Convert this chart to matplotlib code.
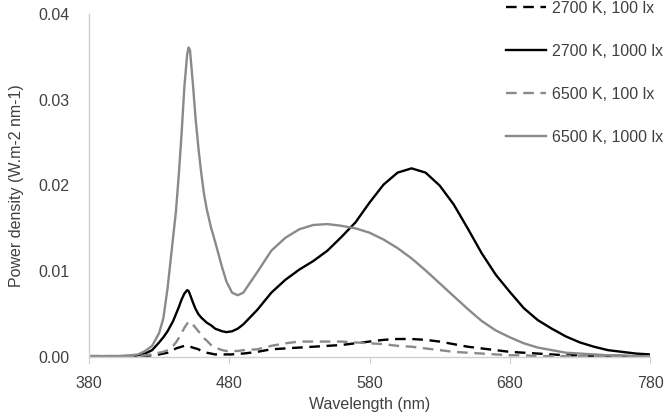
import matplotlib
matplotlib.use("Agg")
import matplotlib.pyplot as plt
from matplotlib.ticker import FormatStrFormatter

wavelength = [380, 390, 400, 410, 415, 420, 425, 430, 433, 436, 438, 440, 442, 444, 446,
              448, 450, 451, 452, 454, 456, 458, 460, 462, 464, 467, 470, 475, 478, 482,
              486, 490, 500, 510, 520, 530, 540, 550, 560, 570,
              580, 590, 600, 610, 620, 630, 640, 650, 660, 670, 680, 690, 700, 710, 720,
              730, 740, 750, 760, 770, 780]

k2700_100 = [0.0001, 0.0001, 0.0001, 0.0001, 0.0001, 0.0001, 0.0002, 0.0003, 0.0004, 0.0005,
             0.0007, 0.0008, 0.0010, 0.0011, 0.0012, 0.0013, 0.0013, 0.0013, 0.0012, 0.0011,
             0.0010, 0.0009, 0.0007, 0.0006, 0.0005, 0.0004, 0.0003, 0.0003, 0.0003, 0.0003,
             0.0004, 0.0004, 0.0006, 0.0009, 0.0010, 0.0011, 0.0012, 0.0013, 0.0014, 0.0016,
             0.0018, 0.0020, 0.0021, 0.0021, 0.0020, 0.0018, 0.0015, 0.0012, 0.0010, 0.0008,
             0.0006, 0.0005, 0.0004, 0.0003, 0.0002, 0.0002, 0.0001, 0.0001, 0.0001, 0.0001,
             0.0001]

k2700_1000 = [0.0001, 0.0001, 0.0001, 0.0001, 0.0002, 0.0004, 0.0008, 0.0017, 0.0023, 0.0030,
              0.0036, 0.0042, 0.0050, 0.0058, 0.0067, 0.0074, 0.0078, 0.0077, 0.0073, 0.0064,
              0.0056, 0.0050, 0.0046, 0.0043, 0.0040, 0.0037, 0.0033, 0.0030, 0.0029, 0.0030,
              0.0033, 0.0038, 0.0055, 0.0075, 0.0090, 0.0102, 0.0112, 0.0124, 0.0140, 0.0157,
              0.0180, 0.0201, 0.0215, 0.0220, 0.0215, 0.0200, 0.0178, 0.0150, 0.0121, 0.0096,
              0.0076, 0.0057, 0.0043, 0.0033, 0.0024, 0.0017, 0.0012, 0.0008, 0.0006, 0.0004,
              0.0003]

k6500_100 = [0.0001, 0.0001, 0.0001, 0.0001, 0.0001, 0.0002, 0.0003, 0.0005, 0.0006, 0.0008,
             0.0010, 0.0013, 0.0017, 0.0022, 0.0028, 0.0034, 0.0039, 0.0041, 0.0041, 0.0038,
             0.0034, 0.0030, 0.0026, 0.0022, 0.0019, 0.0014, 0.0011, 0.0008, 0.0007, 0.0007,
             0.0007, 0.0008, 0.0009, 0.0013, 0.0016, 0.0018, 0.0018, 0.0018, 0.0018, 0.0017,
             0.0016, 0.0015, 0.0013, 0.0012, 0.0010, 0.0008, 0.0006, 0.0005, 0.0004, 0.0003,
             0.0002, 0.0002, 0.0001, 0.0001, 0.0001, 0.0001, 0.0001, 0.0001, 0.0001, 0.0001,
             0.0001]

k6500_1000 = [0.0001, 0.0001, 0.0001, 0.0002, 0.0003, 0.0007, 0.0013, 0.0028, 0.0045, 0.0080,
              0.0110, 0.0140, 0.0170, 0.0212, 0.0260, 0.0315, 0.0353, 0.0361, 0.0358, 0.0320,
              0.0278, 0.0244, 0.0215, 0.0190, 0.0172, 0.0151, 0.0134, 0.0104, 0.0088, 0.0075,
              0.0072, 0.0075, 0.0099, 0.0124, 0.0139, 0.0149, 0.0154, 0.0155, 0.0153, 0.0150,
              0.0145, 0.0137, 0.0127, 0.0115, 0.0101, 0.0086, 0.0071, 0.0056, 0.0042, 0.0031,
              0.0023, 0.0016, 0.0011, 0.0008, 0.0005, 0.0004, 0.0003, 0.0002, 0.0002, 0.0001,
              0.0001]

labels = ["2700 K, 100 lx", "2700 K, 1000 lx", "6500 K, 100 lx", "6500 K, 1000 lx"]
x_ticks = [380, 480, 580, 680, 780]
y_ticks = [0.00, 0.01, 0.02, 0.03, 0.04]

plt.rcParams['font.family'] = ['Liberation Sans', 'DejaVu Sans']
text_color = '#404040'
gray = '#8a8a8a'

fig = plt.figure(figsize=(6.68, 4.16), dpi=100)
ax = fig.add_axes([89/668, 1 - 357/416, (650-89)/668, (357-14)/416])

dash = (0, (4.5, 2.8))
ax.plot(wavelength, k2700_100, color='black', lw=1.7, linestyle=dash, label=labels[0])
ax.plot(wavelength, k2700_1000, color='black', lw=1.7, label=labels[1])
ax.plot(wavelength, k6500_100, color=gray, lw=1.7, linestyle=dash, label=labels[2])
ax.plot(wavelength, k6500_1000, color=gray, lw=1.7, label=labels[3])

ax.set_xlim(380, 780)
ax.set_ylim(0, 0.04)
ax.set_xticks(x_ticks)
ax.set_yticks(y_ticks)
ax.yaxis.set_major_formatter(FormatStrFormatter('%.2f'))

for s in ['top', 'right']:
    ax.spines[s].set_visible(False)
for s in ['left', 'bottom']:
    ax.spines[s].set_color('#d0d0d0')
    ax.spines[s].set_linewidth(1.0)

ax.tick_params(axis='y', length=0, pad=14, labelsize=11.5, labelcolor=text_color)
ax.tick_params(axis='x', length=5, width=0.8, color='#d0d0d0', pad=9, labelsize=11.5,
               labelcolor=text_color)

ax.set_xlabel("Wavelength (nm)", fontsize=11.5, color=text_color, labelpad=4)
ax.set_ylabel("Power density (W.m-2 nm-1)", fontsize=11.5, color=text_color, labelpad=10)

leg = fig.legend(loc='upper left', bbox_to_anchor=(506/668, 1 - 1/416), frameon=False,
                 fontsize=11.5, handlelength=2.5, handletextpad=0.35, labelspacing=1.75,
                 borderpad=0, borderaxespad=0)
for t in leg.get_texts():
    t.set_color(text_color)

fig.savefig("out.png", dpi=100)
